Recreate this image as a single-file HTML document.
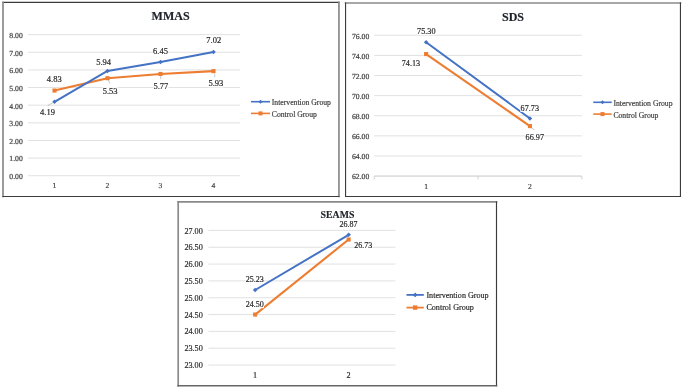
<!DOCTYPE html>
<html><head><meta charset="utf-8"><style>
html,body{margin:0;padding:0;background:#fff;}
body{width:685px;height:390px;overflow:hidden;}
svg{display:block;font-family:"Liberation Serif",serif;}
.gp{text-rendering:geometricPrecision;}
#w{width:685px;height:390px;will-change:transform;}
</style></head><body>
<div id="w"><svg width="685" height="390" viewBox="0 0 685 390">
<rect width="685" height="390" fill="#fff"/>
<line x1="3.0" y1="2.4" x2="338.95" y2="2.4" stroke="#3c3c3c" stroke-width="1.15" stroke-linecap="square"/>
<line x1="3.0" y1="2.4" x2="3.0" y2="196.5" stroke="#8a8a8a" stroke-width="1.7" stroke-linecap="square"/>
<line x1="338.95" y1="2.4" x2="338.95" y2="196.5" stroke="#8a8a8a" stroke-width="1.7" stroke-linecap="square"/>
<line x1="3.0" y1="196.5" x2="338.95" y2="196.5" stroke="#3c3c3c" stroke-width="1.15" stroke-linecap="square"/>
<line x1="28" x2="240" y1="34.64" y2="34.64" stroke="#dedede" stroke-width="0.9"/>
<text x="22.80" y="38.04" font-size="7.7" text-anchor="end" fill="#404040" font-weight="normal" stroke="#404040" stroke-width="0.2" class="gp">8.00</text>
<line x1="28" x2="240" y1="52.28" y2="52.28" stroke="#dedede" stroke-width="0.9"/>
<text x="22.80" y="55.68" font-size="7.7" text-anchor="end" fill="#404040" font-weight="normal" stroke="#404040" stroke-width="0.2" class="gp">7.00</text>
<line x1="28" x2="240" y1="69.91" y2="69.91" stroke="#dedede" stroke-width="0.9"/>
<text x="22.80" y="73.31" font-size="7.7" text-anchor="end" fill="#404040" font-weight="normal" stroke="#404040" stroke-width="0.2" class="gp">6.00</text>
<line x1="28" x2="240" y1="87.55" y2="87.55" stroke="#dedede" stroke-width="0.9"/>
<text x="22.80" y="90.95" font-size="7.7" text-anchor="end" fill="#404040" font-weight="normal" stroke="#404040" stroke-width="0.2" class="gp">5.00</text>
<line x1="28" x2="240" y1="105.18" y2="105.18" stroke="#dedede" stroke-width="0.9"/>
<text x="22.80" y="108.58" font-size="7.7" text-anchor="end" fill="#404040" font-weight="normal" stroke="#404040" stroke-width="0.2" class="gp">4.00</text>
<line x1="28" x2="240" y1="122.82" y2="122.82" stroke="#dedede" stroke-width="0.9"/>
<text x="22.80" y="126.22" font-size="7.7" text-anchor="end" fill="#404040" font-weight="normal" stroke="#404040" stroke-width="0.2" class="gp">3.00</text>
<line x1="28" x2="240" y1="140.46" y2="140.46" stroke="#dedede" stroke-width="0.9"/>
<text x="22.80" y="143.86" font-size="7.7" text-anchor="end" fill="#404040" font-weight="normal" stroke="#404040" stroke-width="0.2" class="gp">2.00</text>
<line x1="28" x2="240" y1="158.09" y2="158.09" stroke="#dedede" stroke-width="0.9"/>
<text x="22.80" y="161.49" font-size="7.7" text-anchor="end" fill="#404040" font-weight="normal" stroke="#404040" stroke-width="0.2" class="gp">1.00</text>
<line x1="28" x2="240" y1="175.73" y2="175.73" stroke="#dedede" stroke-width="0.9"/>
<text x="22.80" y="179.13" font-size="7.7" text-anchor="end" fill="#404040" font-weight="normal" stroke="#404040" stroke-width="0.2" class="gp">0.00</text>
<text x="54.50" y="188.20" font-size="7.6" text-anchor="middle" fill="#404040" font-weight="normal" stroke="#404040" stroke-width="0.18" class="gp">1</text>
<text x="107.50" y="188.20" font-size="7.6" text-anchor="middle" fill="#404040" font-weight="normal" stroke="#404040" stroke-width="0.18" class="gp">2</text>
<text x="160.50" y="188.20" font-size="7.6" text-anchor="middle" fill="#404040" font-weight="normal" stroke="#404040" stroke-width="0.18" class="gp">3</text>
<text x="213.50" y="188.20" font-size="7.6" text-anchor="middle" fill="#404040" font-weight="normal" stroke="#404040" stroke-width="0.18" class="gp">4</text>
<polyline points="54.50,90.55 107.50,78.20 160.50,73.97 213.50,71.15" fill="none" stroke="#ED7D31" stroke-width="2.1" stroke-linejoin="round" stroke-linecap="round"/>
<polyline points="54.50,101.83 107.50,70.97 160.50,61.98 213.50,51.92" fill="none" stroke="#4472C4" stroke-width="2.0" stroke-linejoin="round" stroke-linecap="round"/>
<rect x="52.45" y="88.50" width="4.10" height="4.10" fill="#ED7D31"/>
<rect x="105.45" y="76.15" width="4.10" height="4.10" fill="#ED7D31"/>
<rect x="158.45" y="71.92" width="4.10" height="4.10" fill="#ED7D31"/>
<rect x="211.45" y="69.10" width="4.10" height="4.10" fill="#ED7D31"/>
<path d="M54.50 99.58L56.75 101.83L54.50 104.08L52.25 101.83Z" fill="#4472C4"/>
<path d="M107.50 68.72L109.75 70.97L107.50 73.22L105.25 70.97Z" fill="#4472C4"/>
<path d="M160.50 59.73L162.75 61.98L160.50 64.23L158.25 61.98Z" fill="#4472C4"/>
<path d="M213.50 49.67L215.75 51.92L213.50 54.17L211.25 51.92Z" fill="#4472C4"/>
<line x1="47.6" y1="105.7" x2="53.1" y2="102.7" stroke="#a6a6a6" stroke-width="0.6"/>
<line x1="108.4" y1="80.1" x2="109.9" y2="83.5" stroke="#a6a6a6" stroke-width="0.6"/>
<line x1="160.7" y1="75.8" x2="160.7" y2="79.2" stroke="#a6a6a6" stroke-width="0.6"/>
<line x1="214.6" y1="74.2" x2="214.9" y2="77.1" stroke="#a6a6a6" stroke-width="0.6"/>
<rect x="39.91" y="108.77" width="15.28" height="7.82" fill="#fff"/>
<rect x="95.96" y="58.77" width="15.28" height="7.82" fill="#fff"/>
<rect x="152.86" y="47.37" width="15.28" height="7.82" fill="#fff"/>
<rect x="206.16" y="36.67" width="15.28" height="7.82" fill="#fff"/>
<rect x="46.66" y="74.87" width="15.28" height="7.82" fill="#fff"/>
<rect x="102.46" y="87.17" width="15.28" height="7.82" fill="#fff"/>
<rect x="153.26" y="82.67" width="15.28" height="7.82" fill="#fff"/>
<rect x="208.26" y="79.57" width="15.28" height="7.82" fill="#fff"/>
<text x="47.55" y="115.40" font-size="8.5" text-anchor="middle" fill="#262626" font-weight="normal" stroke="#262626" stroke-width="0.18">4.19</text>
<text x="103.60" y="65.40" font-size="8.5" text-anchor="middle" fill="#262626" font-weight="normal" stroke="#262626" stroke-width="0.18">5.94</text>
<text x="160.50" y="54.00" font-size="8.5" text-anchor="middle" fill="#262626" font-weight="normal" stroke="#262626" stroke-width="0.18">6.45</text>
<text x="213.80" y="43.30" font-size="8.5" text-anchor="middle" fill="#262626" font-weight="normal" stroke="#262626" stroke-width="0.18">7.02</text>
<text x="54.30" y="81.50" font-size="8.5" text-anchor="middle" fill="#262626" font-weight="normal" stroke="#262626" stroke-width="0.18">4.83</text>
<text x="110.10" y="93.80" font-size="8.5" text-anchor="middle" fill="#262626" font-weight="normal" stroke="#262626" stroke-width="0.18">5.53</text>
<text x="160.90" y="89.30" font-size="8.5" text-anchor="middle" fill="#262626" font-weight="normal" stroke="#262626" stroke-width="0.18">5.77</text>
<text x="215.90" y="86.20" font-size="8.5" text-anchor="middle" fill="#262626" font-weight="normal" stroke="#262626" stroke-width="0.18">5.93</text>
<text x="170.60" y="19.70" font-size="12" text-anchor="middle" fill="#1e232a" font-weight="bold" stroke="#1e232a" stroke-width="0.18">MMAS</text>
<line x1="251" x2="270" y1="101.7" y2="101.7" stroke="#4472C4" stroke-width="1.6"/>
<path d="M260.50 99.70L262.50 101.70L260.50 103.70L258.50 101.70Z" fill="#4472C4"/>
<text x="271.80" y="105.20" font-size="7.7" text-anchor="start" fill="#404040" font-weight="normal" stroke="#404040" stroke-width="0.18">Intervention Group</text>
<line x1="251" x2="270" y1="113.4" y2="113.4" stroke="#ED7D31" stroke-width="1.6"/>
<rect x="258.50" y="111.40" width="4.00" height="4.00" fill="#ED7D31"/>
<text x="271.80" y="116.90" font-size="7.7" text-anchor="start" fill="#404040" font-weight="normal" stroke="#404040" stroke-width="0.18">Control Group</text>
<line x1="345.55" y1="3.0" x2="680.45" y2="3.0" stroke="#8a8a8a" stroke-width="1.7" stroke-linecap="square"/>
<line x1="345.55" y1="3.0" x2="345.55" y2="196.45" stroke="#3c3c3c" stroke-width="1.15" stroke-linecap="square"/>
<line x1="680.45" y1="3.0" x2="680.45" y2="196.45" stroke="#3c3c3c" stroke-width="1.15" stroke-linecap="square"/>
<line x1="345.55" y1="196.45" x2="680.45" y2="196.45" stroke="#3c3c3c" stroke-width="1.15" stroke-linecap="square"/>
<line x1="374.2" x2="581.85" y1="35.26" y2="35.26" stroke="#dedede" stroke-width="0.9"/>
<text x="369.30" y="38.56" font-size="7.7" text-anchor="end" fill="#404040" font-weight="normal" stroke="#404040" stroke-width="0.2" class="gp">76.00</text>
<line x1="374.2" x2="581.85" y1="55.38" y2="55.38" stroke="#dedede" stroke-width="0.9"/>
<text x="369.30" y="58.68" font-size="7.7" text-anchor="end" fill="#404040" font-weight="normal" stroke="#404040" stroke-width="0.2" class="gp">74.00</text>
<line x1="374.2" x2="581.85" y1="75.50" y2="75.50" stroke="#dedede" stroke-width="0.9"/>
<text x="369.30" y="78.80" font-size="7.7" text-anchor="end" fill="#404040" font-weight="normal" stroke="#404040" stroke-width="0.2" class="gp">72.00</text>
<line x1="374.2" x2="581.85" y1="95.62" y2="95.62" stroke="#dedede" stroke-width="0.9"/>
<text x="369.30" y="98.92" font-size="7.7" text-anchor="end" fill="#404040" font-weight="normal" stroke="#404040" stroke-width="0.2" class="gp">70.00</text>
<line x1="374.2" x2="581.85" y1="115.74" y2="115.74" stroke="#dedede" stroke-width="0.9"/>
<text x="369.30" y="119.04" font-size="7.7" text-anchor="end" fill="#404040" font-weight="normal" stroke="#404040" stroke-width="0.2" class="gp">68.00</text>
<line x1="374.2" x2="581.85" y1="135.86" y2="135.86" stroke="#dedede" stroke-width="0.9"/>
<text x="369.30" y="139.16" font-size="7.7" text-anchor="end" fill="#404040" font-weight="normal" stroke="#404040" stroke-width="0.2" class="gp">66.00</text>
<line x1="374.2" x2="581.85" y1="155.98" y2="155.98" stroke="#dedede" stroke-width="0.9"/>
<text x="369.30" y="159.28" font-size="7.7" text-anchor="end" fill="#404040" font-weight="normal" stroke="#404040" stroke-width="0.2" class="gp">64.00</text>
<line x1="374.2" x2="581.85" y1="176.10" y2="176.10" stroke="#dedede" stroke-width="0.9"/>
<text x="369.30" y="179.40" font-size="7.7" text-anchor="end" fill="#404040" font-weight="normal" stroke="#404040" stroke-width="0.2" class="gp">62.00</text>
<line x1="374.2" x2="581.85" y1="176.10" y2="176.10" stroke="#d2d2d2" stroke-width="0.9"/>
<line x1="374.20" x2="374.20" y1="176.10" y2="179.40" stroke="#cdcdcd" stroke-width="0.9"/>
<line x1="478.02" x2="478.02" y1="176.10" y2="179.40" stroke="#cdcdcd" stroke-width="0.9"/>
<line x1="581.85" x2="581.85" y1="176.10" y2="179.40" stroke="#cdcdcd" stroke-width="0.9"/>
<text x="426.11" y="189.00" font-size="7.6" text-anchor="middle" fill="#404040" font-weight="normal" stroke="#404040" stroke-width="0.18" class="gp">1</text>
<text x="529.94" y="189.00" font-size="7.6" text-anchor="middle" fill="#404040" font-weight="normal" stroke="#404040" stroke-width="0.18" class="gp">2</text>
<polyline points="426.11,54.07 529.94,126.10" fill="none" stroke="#ED7D31" stroke-width="2.1" stroke-linejoin="round" stroke-linecap="round"/>
<polyline points="426.11,42.30 529.94,118.46" fill="none" stroke="#4472C4" stroke-width="2.0" stroke-linejoin="round" stroke-linecap="round"/>
<rect x="424.06" y="52.02" width="4.10" height="4.10" fill="#ED7D31"/>
<rect x="527.89" y="124.05" width="4.10" height="4.10" fill="#ED7D31"/>
<path d="M426.11 40.05L428.36 42.30L426.11 44.55L423.86 42.30Z" fill="#4472C4"/>
<path d="M529.94 116.21L532.19 118.46L529.94 120.71L527.69 118.46Z" fill="#4472C4"/>
<line x1="531.3" y1="127.9" x2="534.5" y2="129.8" stroke="#a6a6a6" stroke-width="0.6"/>
<rect x="416.88" y="27.40" width="18.85" height="7.54" fill="#fff"/>
<rect x="401.47" y="59.60" width="18.85" height="7.54" fill="#fff"/>
<rect x="520.37" y="104.50" width="18.85" height="7.54" fill="#fff"/>
<rect x="525.37" y="133.40" width="18.85" height="7.54" fill="#fff"/>
<text x="426.30" y="33.80" font-size="8.2" text-anchor="middle" fill="#262626" font-weight="normal" stroke="#262626" stroke-width="0.18">75.30</text>
<text x="410.90" y="66.00" font-size="8.2" text-anchor="middle" fill="#262626" font-weight="normal" stroke="#262626" stroke-width="0.18">74.13</text>
<text x="529.80" y="110.90" font-size="8.2" text-anchor="middle" fill="#262626" font-weight="normal" stroke="#262626" stroke-width="0.18">67.73</text>
<text x="534.80" y="139.80" font-size="8.2" text-anchor="middle" fill="#262626" font-weight="normal" stroke="#262626" stroke-width="0.18">66.97</text>
<text x="513.00" y="20.60" font-size="12" text-anchor="middle" fill="#1e232a" font-weight="bold" stroke="#1e232a" stroke-width="0.18">SDS</text>
<line x1="593.3" x2="611.7" y1="102.3" y2="102.3" stroke="#4472C4" stroke-width="1.6"/>
<path d="M602.50 100.30L604.50 102.30L602.50 104.30L600.50 102.30Z" fill="#4472C4"/>
<text x="613.40" y="105.70" font-size="7.7" text-anchor="start" fill="#404040" font-weight="normal" stroke="#404040" stroke-width="0.18">Intervention Group</text>
<line x1="593.3" x2="611.7" y1="114.1" y2="114.1" stroke="#ED7D31" stroke-width="1.6"/>
<rect x="600.50" y="112.10" width="4.00" height="4.00" fill="#ED7D31"/>
<text x="613.40" y="117.50" font-size="7.7" text-anchor="start" fill="#404040" font-weight="normal" stroke="#404040" stroke-width="0.18">Control Group</text>
<line x1="178.2" y1="201.95" x2="496.5" y2="201.95" stroke="#8a8a8a" stroke-width="1.7" stroke-linecap="square"/>
<line x1="178.2" y1="201.95" x2="178.2" y2="385.75" stroke="#8a8a8a" stroke-width="1.7" stroke-linecap="square"/>
<line x1="496.5" y1="201.95" x2="496.5" y2="385.75" stroke="#3c3c3c" stroke-width="1.15" stroke-linecap="square"/>
<line x1="178.2" y1="385.75" x2="496.5" y2="385.75" stroke="#666" stroke-width="1.6" stroke-linecap="square"/>
<line x1="208.4" x2="395.4" y1="230.41" y2="230.41" stroke="#dedede" stroke-width="0.9"/>
<text x="202.80" y="233.51" font-size="8.2" text-anchor="end" fill="#2a2a2a" font-weight="normal" stroke="#2a2a2a" stroke-width="0.18">27.00</text>
<line x1="208.4" x2="395.4" y1="247.24" y2="247.24" stroke="#dedede" stroke-width="0.9"/>
<text x="202.80" y="250.34" font-size="8.2" text-anchor="end" fill="#2a2a2a" font-weight="normal" stroke="#2a2a2a" stroke-width="0.18">26.50</text>
<line x1="208.4" x2="395.4" y1="264.07" y2="264.07" stroke="#dedede" stroke-width="0.9"/>
<text x="202.80" y="267.17" font-size="8.2" text-anchor="end" fill="#2a2a2a" font-weight="normal" stroke="#2a2a2a" stroke-width="0.18">26.00</text>
<line x1="208.4" x2="395.4" y1="280.90" y2="280.90" stroke="#dedede" stroke-width="0.9"/>
<text x="202.80" y="284.00" font-size="8.2" text-anchor="end" fill="#2a2a2a" font-weight="normal" stroke="#2a2a2a" stroke-width="0.18">25.50</text>
<line x1="208.4" x2="395.4" y1="297.73" y2="297.73" stroke="#dedede" stroke-width="0.9"/>
<text x="202.80" y="300.83" font-size="8.2" text-anchor="end" fill="#2a2a2a" font-weight="normal" stroke="#2a2a2a" stroke-width="0.18">25.00</text>
<line x1="208.4" x2="395.4" y1="314.56" y2="314.56" stroke="#dedede" stroke-width="0.9"/>
<text x="202.80" y="317.66" font-size="8.2" text-anchor="end" fill="#2a2a2a" font-weight="normal" stroke="#2a2a2a" stroke-width="0.18">24.50</text>
<line x1="208.4" x2="395.4" y1="331.39" y2="331.39" stroke="#dedede" stroke-width="0.9"/>
<text x="202.80" y="334.49" font-size="8.2" text-anchor="end" fill="#2a2a2a" font-weight="normal" stroke="#2a2a2a" stroke-width="0.18">24.00</text>
<line x1="208.4" x2="395.4" y1="348.22" y2="348.22" stroke="#dedede" stroke-width="0.9"/>
<text x="202.80" y="351.32" font-size="8.2" text-anchor="end" fill="#2a2a2a" font-weight="normal" stroke="#2a2a2a" stroke-width="0.18">23.50</text>
<line x1="208.4" x2="395.4" y1="365.05" y2="365.05" stroke="#dedede" stroke-width="0.9"/>
<text x="202.80" y="368.15" font-size="8.2" text-anchor="end" fill="#2a2a2a" font-weight="normal" stroke="#2a2a2a" stroke-width="0.18">23.00</text>
<text x="255.15" y="377.60" font-size="8.2" text-anchor="middle" fill="#2a2a2a" font-weight="normal" stroke="#2a2a2a" stroke-width="0.18">1</text>
<text x="348.65" y="377.60" font-size="8.2" text-anchor="middle" fill="#2a2a2a" font-weight="normal" stroke="#2a2a2a" stroke-width="0.18">2</text>
<polyline points="255.15,314.56 348.65,239.50" fill="none" stroke="#ED7D31" stroke-width="2.1" stroke-linejoin="round" stroke-linecap="round"/>
<polyline points="255.15,289.99 348.65,234.79" fill="none" stroke="#4472C4" stroke-width="2.0" stroke-linejoin="round" stroke-linecap="round"/>
<rect x="253.10" y="312.51" width="4.10" height="4.10" fill="#ED7D31"/>
<rect x="346.60" y="237.45" width="4.10" height="4.10" fill="#ED7D31"/>
<path d="M255.15 287.74L257.40 289.99L255.15 292.24L252.90 289.99Z" fill="#4472C4"/>
<path d="M348.65 232.54L350.90 234.79L348.65 237.04L346.40 234.79Z" fill="#4472C4"/>
<rect x="245.60" y="275.66" width="18.40" height="7.36" fill="#fff"/>
<rect x="245.60" y="300.76" width="18.40" height="7.36" fill="#fff"/>
<rect x="339.40" y="220.86" width="18.40" height="7.36" fill="#fff"/>
<rect x="354.00" y="241.76" width="18.40" height="7.36" fill="#fff"/>
<text x="254.80" y="281.90" font-size="8.0" text-anchor="middle" fill="#262626" font-weight="normal" stroke="#262626" stroke-width="0.18">25.23</text>
<text x="254.80" y="307.00" font-size="8.0" text-anchor="middle" fill="#262626" font-weight="normal" stroke="#262626" stroke-width="0.18">24.50</text>
<text x="348.60" y="227.10" font-size="8.0" text-anchor="middle" fill="#262626" font-weight="normal" stroke="#262626" stroke-width="0.18">26.87</text>
<text x="363.20" y="248.00" font-size="8.0" text-anchor="middle" fill="#262626" font-weight="normal" stroke="#262626" stroke-width="0.18">26.73</text>
<text x="337.50" y="217.50" font-size="9.8" text-anchor="middle" fill="#1e232a" font-weight="bold" stroke="#1e232a" stroke-width="0.18">SEAMS</text>
<line x1="406.5" x2="423.8" y1="294.9" y2="294.9" stroke="#4472C4" stroke-width="1.8"/>
<path d="M415.15 292.55L417.50 294.90L415.15 297.25L412.80 294.90Z" fill="#4472C4"/>
<text x="426.40" y="297.70" font-size="8.1" text-anchor="start" fill="#2a2a2a" font-weight="normal" stroke="#2a2a2a" stroke-width="0.18">Intervention Group</text>
<line x1="406.5" x2="423.8" y1="307.6" y2="307.6" stroke="#ED7D31" stroke-width="1.8"/>
<rect x="412.95" y="305.40" width="4.40" height="4.40" fill="#ED7D31"/>
<text x="426.40" y="310.40" font-size="8.1" text-anchor="start" fill="#2a2a2a" font-weight="normal" stroke="#2a2a2a" stroke-width="0.18">Control Group</text>
</svg></div>
</body></html>
